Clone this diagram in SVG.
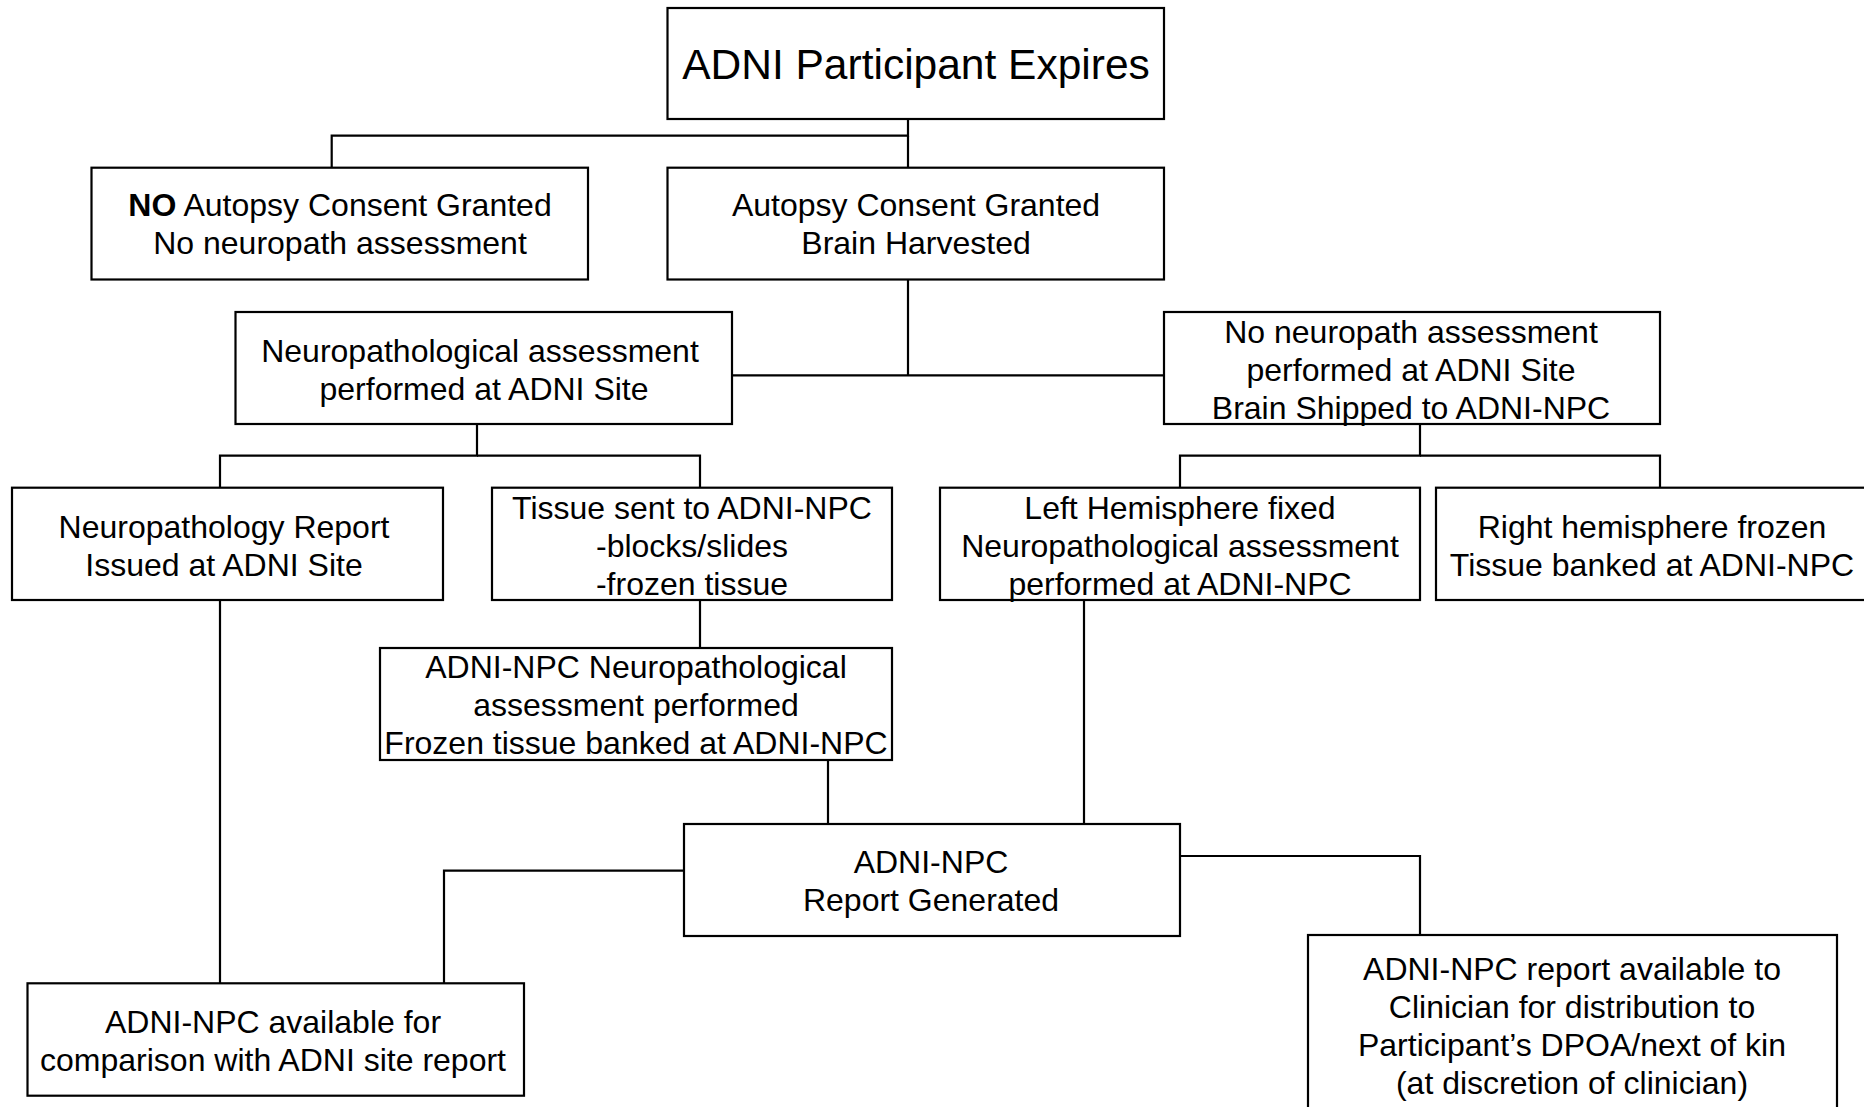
<svg xmlns="http://www.w3.org/2000/svg" width="1864" height="1107" viewBox="0 0 1864 1107">
<style>
rect.box{fill:#fff;stroke:#000;stroke-width:2.2}
.c{fill:none;stroke:#000;stroke-width:2.2}
text{font-family:"Liberation Sans",Arial,sans-serif;font-size:32px;fill:#000;text-anchor:middle}
.b{font-weight:bold}
</style>
<rect width="1864" height="1107" fill="#fff"/>
<g id="connectors">
<path class="c" d="M908,119 V135.7 H331.7 V167.7"/>
<path class="c" d="M908,135.7 V167.7"/>
<path class="c" d="M908,279.5 V375.3"/>
<path class="c" d="M732,375.3 H1164"/>
<path class="c" d="M477,424 V455.7 H220 V487.7"/>
<path class="c" d="M477,455.7 H700 V487.7"/>
<path class="c" d="M1420,424 V455.7 H1180 V487.7"/>
<path class="c" d="M1420,455.7 H1660 V487.7"/>
<path class="c" d="M220,600 V983.3"/>
<path class="c" d="M700,600 V648"/>
<path class="c" d="M828,760 V824"/>
<path class="c" d="M1084,600 V824"/>
<path class="c" d="M684,870.7 H444 V983.3"/>
<path class="c" d="M1180,856 H1420 V935"/>
</g>
<g id="n1"><rect class="box" x="667.5" y="8" width="496.5" height="111"/>
<text x="916" y="79" style="font-size:42.5px">ADNI Participant Expires</text></g>
<g id="n2"><rect class="box" x="91.5" y="167.7" width="496.5" height="111.8"/>
<text x="340" y="216"><tspan class="b">NO</tspan> Autopsy Consent Granted</text>
<text x="340" y="254">No neuropath assessment</text></g>
<g id="n3"><rect class="box" x="667.5" y="167.7" width="496.5" height="111.8"/>
<text x="916" y="216">Autopsy Consent Granted</text>
<text x="916" y="254">Brain Harvested</text></g>
<g id="n4"><rect class="box" x="235.5" y="312" width="496.5" height="112"/>
<text x="480" y="362">Neuropathological assessment</text>
<text x="484" y="400">performed at ADNI Site</text></g>
<g id="n5"><rect class="box" x="1164" y="312" width="496" height="112"/>
<text x="1411" y="343">No neuropath assessment</text>
<text x="1411" y="381">performed at ADNI Site</text>
<text x="1411" y="419">Brain Shipped to ADNI-NPC</text></g>
<g id="n6"><rect class="box" x="12" y="487.7" width="431" height="112.3"/>
<text x="224" y="538">Neuropathology Report</text>
<text x="224" y="576">Issued at ADNI Site</text></g>
<g id="n7"><rect class="box" x="492" y="487.7" width="400" height="112.3"/>
<text x="692" y="519">Tissue sent to ADNI-NPC</text>
<text x="692" y="557">-blocks/slides</text>
<text x="692" y="595">-frozen tissue</text></g>
<g id="n8"><rect class="box" x="940" y="487.7" width="480" height="112.3"/>
<text x="1180" y="519">Left Hemisphere fixed</text>
<text x="1180" y="557">Neuropathological assessment</text>
<text x="1180" y="595">performed at ADNI-NPC</text></g>
<g id="n9"><rect class="box" x="1436" y="487.7" width="432" height="112.3"/>
<text x="1652" y="538">Right hemisphere frozen</text>
<text x="1652" y="576">Tissue banked at ADNI-NPC</text></g>
<g id="n10"><rect class="box" x="380" y="648" width="512" height="112"/>
<text x="636" y="678">ADNI-NPC Neuropathological</text>
<text x="636" y="716">assessment performed</text>
<text x="636" y="754">Frozen tissue banked at ADNI-NPC</text></g>
<g id="n11"><rect class="box" x="684" y="824" width="496" height="112"/>
<text x="931" y="873">ADNI-NPC</text>
<text x="931" y="911">Report Generated</text></g>
<g id="n12"><rect class="box" x="27.5" y="983.3" width="496.5" height="112.4"/>
<text x="273" y="1033">ADNI-NPC available for</text>
<text x="273" y="1071">comparison with ADNI site report</text></g>
<g id="n13"><rect class="box" x="1308" y="935" width="529" height="190"/>
<text x="1572" y="980">ADNI-NPC report available to</text>
<text x="1572" y="1018">Clinician for distribution to</text>
<text x="1572" y="1056">Participant’s DPOA/next of kin</text>
<text x="1572" y="1094">(at discretion of clinician)</text></g>
</svg>
